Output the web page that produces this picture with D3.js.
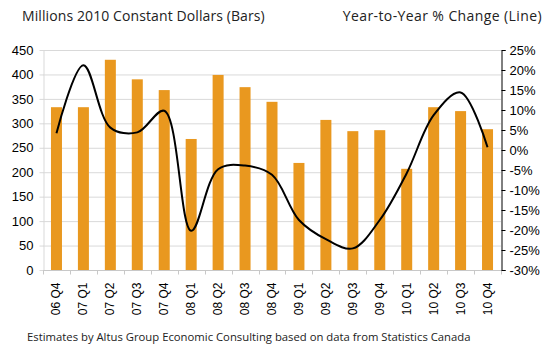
<!DOCTYPE html>
<html>
<head>
<meta charset="utf-8">
<script src="https://cdn.jsdelivr.net/npm/d3@7"></script>
<style>
  html, body { margin: 0; padding: 0; background: #fff; }
  svg { display: block; }
</style>
</head>
<body>
<svg id="chart" width="545" height="349"></svg>
<script>
// Quarterly categories
const quarters = ["06 Q4","07 Q1","07 Q2","07 Q3","07 Q4","08 Q1","08 Q2","08 Q3","08 Q4",
                  "09 Q1","09 Q2","09 Q3","09 Q4","10 Q1","10 Q2","10 Q3","10 Q4"];
// Millions of 2010 constant dollars (bars)
const dollars = [333, 333, 430, 390, 368, 268, 399, 374, 344,
                 219, 307, 284, 286, 207, 333, 325, 288];
// Year-to-year % change (line)
const pctChange = [4.2, 21.2, 5.6, 4.4, 9.8, -20.2, -4.8, -3.9, -6.2,
                   -17.5, -22.3, -24.6, -17.5, -5.8, 8.7, 14.4, 0.7];
// Axis ticks
const leftTicks = [0, 50, 100, 150, 200, 250, 300, 350, 400, 450];
const rightTicks = [25, 20, 15, 10, 5, 0, -5, -10, -15, -20, -25, -30];

const svg = d3.select("#chart");
const m = { left: 43, right: 501, top: 50, bottom: 270 };

const x = d3.scaleBand().domain(quarters).range([m.left, m.right]).paddingInner(0).paddingOuter(0);
const yL = d3.scaleLinear().domain([0, 450]).range([m.bottom, m.top]);
const yR = d3.scaleLinear().domain([-30, 25]).range([m.bottom, m.top]);

const numFont = "'Liberation Sans', Arial, sans-serif";
const textFont = "'Open Sans', 'Noto Sans', sans-serif";

// Horizontal gridlines
svg.append("g")
  .selectAll("line")
  .data(leftTicks.filter(d => d > 0))
  .join("line")
  .attr("x1", m.left).attr("x2", m.right)
  .attr("y1", d => yL(d) + 0.5).attr("y2", d => yL(d) + 0.5)
  .attr("stroke", "#d9d9d9").attr("stroke-width", 1);

// Left axis
const leftAxis = svg.append("g")
  .attr("transform", `translate(${m.left + 0.5},0)`)
  .call(d3.axisLeft(yL).tickValues(leftTicks).tickSize(4).tickSizeOuter(0));
leftAxis.select(".domain").attr("stroke", "#d9d9d9");
leftAxis.selectAll(".tick line").attr("stroke", "#d9d9d9");
leftAxis.selectAll("text")
  .attr("font-family", numFont).attr("font-size", 13).attr("fill", "#000")
  .attr("x", -10);

// Bars
const barW = 11;
svg.append("g")
  .selectAll("rect")
  .data(dollars)
  .join("rect")
  .attr("x", (d, i) => x(quarters[i]) + x.bandwidth() / 2 - barW / 2)
  .attr("y", d => yL(d))
  .attr("width", barW)
  .attr("height", d => yL(0) - yL(d))
  .attr("fill", "#e9981f");

// Bottom axis with ticks at category boundaries
const bottom = svg.append("g").attr("transform", `translate(0,${m.bottom + 0.5})`);
bottom.append("line")
  .attr("x1", m.left).attr("x2", m.right)
  .attr("stroke", "#c8c8c8");
bottom.selectAll("line.tk")
  .data(quarters.concat(["end"]))
  .join("line")
  .attr("class", "tk")
  .attr("x1", (d, i) => Math.round(m.left + i * x.bandwidth()) + 0.5)
  .attr("x2", (d, i) => Math.round(m.left + i * x.bandwidth()) + 0.5)
  .attr("y1", 0).attr("y2", 4)
  .attr("stroke", "#c8c8c8");
bottom.selectAll("text")
  .data(quarters)
  .join("text")
  .attr("transform", d => `translate(${x(d) + x.bandwidth() / 2 + 4},12) rotate(-90)`)
  .attr("text-anchor", "end")
  .attr("font-family", numFont).attr("font-size", 12)
  .attr("fill", "#000")
  .text(d => d);

// Right axis
const rightAxis = svg.append("g")
  .attr("transform", `translate(${m.right + 0.5},0)`)
  .call(d3.axisRight(yR).tickValues(rightTicks).tickSize(4).tickSizeOuter(4)
        .tickFormat(d => d + "%"));
rightAxis.select(".domain").attr("stroke", "#000");
rightAxis.selectAll(".tick line").attr("stroke", "#000");
rightAxis.selectAll("text")
  .attr("font-family", numFont).attr("font-size", 13).attr("fill", "#000")
  .attr("x", 8);

// Smoothed % change line
const line = d3.line()
  .x((d, i) => x(quarters[i]) + x.bandwidth() / 2)
  .y(d => yR(d))
  .curve(d3.curveCatmullRom.alpha(0.5));
svg.append("path")
  .datum(pctChange)
  .attr("d", line)
  .attr("fill", "none")
  .attr("stroke", "#000")
  .attr("stroke-width", 2);

// Axis titles
svg.append("text")
  .attr("x", 22).attr("y", 21)
  .attr("font-family", textFont).attr("font-size", 14).attr("fill", "#222")
  .attr("letter-spacing", 0.1)
  .text("Millions 2010 Constant Dollars (Bars)");
svg.append("text")
  .attr("x", 542).attr("y", 21)
  .attr("text-anchor", "end")
  .attr("font-family", textFont).attr("font-size", 14).attr("fill", "#222")
  .attr("letter-spacing", 0.4)
  .text("Year-to-Year % Change (Line)");

// Source note
svg.append("text")
  .attr("x", 27).attr("y", 341)
  .attr("font-family", textFont).attr("font-size", 11.3).attr("fill", "#222")
  .text("Estimates by Altus Group Economic Consulting based on data from Statistics Canada");
</script>
</body>
</html>
